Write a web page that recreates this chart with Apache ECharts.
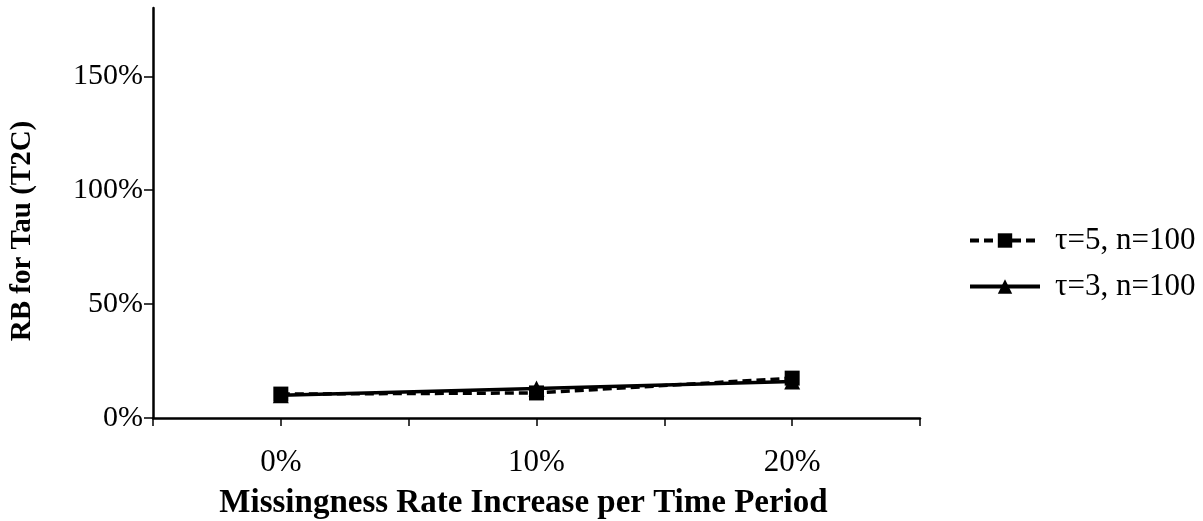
<!DOCTYPE html>
<html>
<head>
<meta charset="utf-8">
<script src="https://cdn.jsdelivr.net/npm/echarts@6/dist/echarts.min.js"></script>
<style>html,body{margin:0;padding:0;background:#fff}#c{width:1203px;height:521px}</style>
</head>
<body>
<div id="c"></div>
<script>
var xValues = [0, 10, 20];
var xTickLabels = ['0%', '10%', '20%'];
var yTicks = [0, 50, 100, 150];
var seriesNames = ['τ=5, n=100', 'τ=3, n=100'];
var tau5 = [10.5, 11, 17.5];
var tau3 = [10, 13, 16];

function pairs(vals) { return xValues.map(function (x, i) { return [x, vals[i]]; }); }

var font = '"Liberation Serif", "Times New Roman", serif';
var chart = echarts.init(document.getElementById('c'));
chart.setOption({
  animation: false,
  backgroundColor: '#fff',
  grid: { left: 153, right: 283, top: 8, bottom: 103, containLabel: false, outerBoundsMode: 'none' },
  xAxis: {
    type: 'value', min: -5, max: 25, interval: 5,
    name: 'Missingness Rate Increase per Time Period',
    nameLocation: 'middle', nameGap: 69,
    nameTextStyle: { fontFamily: font, fontSize: 33, fontWeight: 'bold', color: '#000', padding: [0, 26, 0, 0] },
    axisLine: { show: true, onZero: false, lineStyle: { color: '#000', width: 2.5 } },
    axisTick: { show: true, length: 8, lineStyle: { color: '#000', width: 1.5 } },
    splitLine: { show: false },
    axisLabel: {
      margin: 29, fontFamily: font, fontSize: 31, color: '#000',
      formatter: function (v) { var i = xValues.indexOf(v); return i >= 0 ? xTickLabels[i] : ''; }
    }
  },
  yAxis: {
    type: 'value', min: 0, max: 180, interval: 50,
    name: 'RB for Tau (T2C)', nameLocation: 'middle', nameGap: 116,
    nameTextStyle: { fontFamily: font, fontSize: 29, fontWeight: 'bold', color: '#000', padding: [0, 36, 0, 0] },
    axisLine: { show: true, onZero: false, lineStyle: { color: '#000', width: 2.5 } },
    axisTick: { show: true, length: 9, customValues: yTicks, lineStyle: { color: '#000', width: 1.5 } },
    splitLine: { show: false },
    axisLabel: { margin: 10, customValues: yTicks, fontFamily: font, fontSize: 30, color: '#000', formatter: function (v) { return v + '%'; } }
  },
  legend: {
    orient: 'vertical', left: 963, top: 220, itemWidth: 70, itemHeight: 18, itemGap: 15,
    lineStyle: { width: 4 },
    textStyle: { fontFamily: font, fontSize: 31, color: '#000', padding: [0, 0, 0, 10] },
    data: seriesNames
  },
  series: [
    {
      name: seriesNames[0], type: 'line', data: pairs(tau5),
      symbol: 'rect', symbolSize: 15,
      lineStyle: { color: '#000', width: 3.5, type: [9, 5] },
      itemStyle: { color: '#000' }
    },
    {
      name: seriesNames[1], type: 'line', data: pairs(tau3),
      symbol: 'triangle', symbolSize: 16,
      lineStyle: { color: '#000', width: 3.5 },
      itemStyle: { color: '#000' }
    }
  ]
});
</script>
</body>
</html>
